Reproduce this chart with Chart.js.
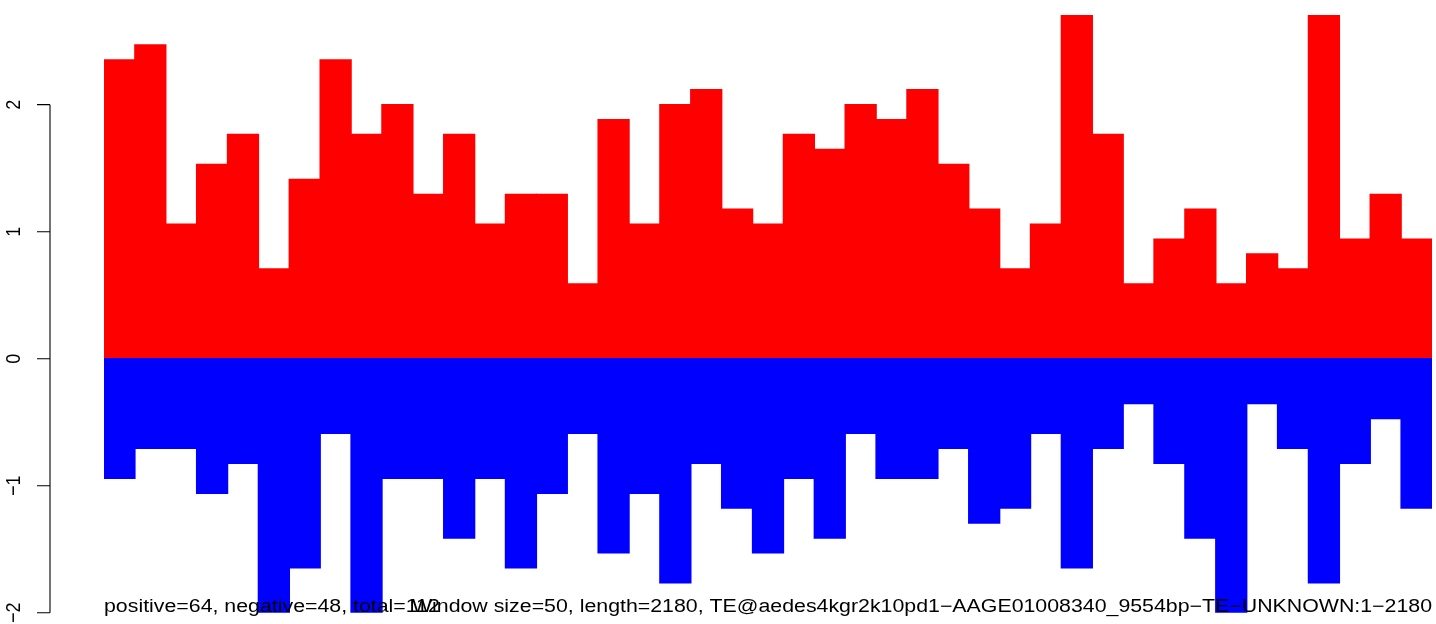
<!DOCTYPE html>
<html>
<head>
<meta charset="utf-8">
<script src="https://cdn.jsdelivr.net/npm/chart.js@4/dist/chart.umd.min.js"></script>
<style>
  html, body { margin: 0; padding: 0; background: #ffffff; }
  #wrap { position: relative; width: 1436px; height: 624px; }
</style>
</head>
<body>
<div id="wrap"><canvas id="c"></canvas></div>
<script>
// Window index labels (43 windows of 50 bp)
const windows = ["1","2","3","4","5","6","7","8","9","10","11","12","13","14","15","16","17","18","19","20","21","22","23","24","25","26","27","28","29","30","31","32","33","34","35","36","37","38","39","40","41","42","43"];

// Positive-strand values (red)
const positiveValues = [2.353, 2.471, 1.059, 1.529, 1.765, 0.706, 1.412, 2.353, 1.765, 2.000, 1.294, 1.765, 1.059, 1.294, 1.294, 0.588, 1.882, 1.059, 2.000, 2.118, 1.176, 1.059, 1.765, 1.647, 2.000, 1.882, 2.118, 1.529, 1.176, 0.706, 1.059, 2.706, 1.765, 0.588, 0.941, 1.176, 0.588, 0.824, 0.706, 2.706, 0.941, 1.294, 0.941];

// Negative-strand values (blue)
const negativeValues = [-0.941, -0.706, -0.706, -1.059, -0.824, -2.000, -1.647, -0.588, -2.000, -0.941, -0.941, -1.412, -0.941, -1.647, -1.059, -0.588, -1.529, -1.059, -1.765, -0.824, -1.176, -1.529, -0.941, -1.412, -0.588, -0.941, -0.941, -0.706, -1.294, -1.176, -0.588, -1.647, -0.706, -0.353, -0.824, -1.412, -2.000, -0.353, -0.706, -1.765, -0.824, -0.471, -1.176];

// Y axis ticks and labels
const yTickValues = [-2, -1, 0, 1, 2];
const yTickLabels = ["\u22122", "\u22121", "0", "1", "2"];

// Bottom annotation texts
const leftNote = "positive=64, negative=48, total=112";
const rightNote = "Window size=50, length=2180, TE@aedes4kgr2k10pd1\u2212AAGE01008340_9554bp\u2212TE\u2212UNKNOWN:1\u22122180";

const FONT = '18px "Liberation Sans", Arial, Helvetica, sans-serif';
const XSTRETCH = 1.185;

const overlay = {
  id: 'rOverlay',
  afterDraw(chart) {
    const ctx = chart.ctx;
    const ys = chart.scales.y;
    const area = chart.chartArea;
    ctx.save();
    // Y axis line + ticks
    ctx.strokeStyle = '#000000';
    ctx.lineWidth = 1.1;
    const yTop = ys.getPixelForValue(yTickValues[yTickValues.length - 1]);
    const yBot = ys.getPixelForValue(yTickValues[0]);
    ctx.beginPath();
    ctx.moveTo(50, yTop);
    ctx.lineTo(50, yBot);
    yTickValues.forEach(v => {
      const p = ys.getPixelForValue(v);
      ctx.moveTo(37, p);
      ctx.lineTo(50, p);
    });
    ctx.stroke();
    // Rotated tick labels
    ctx.fillStyle = '#000000';
    ctx.font = FONT;
    ctx.textAlign = 'center';
    ctx.textBaseline = 'alphabetic';
    yTickValues.forEach((v, i) => {
      const p = ys.getPixelForValue(v);
      ctx.save();
      ctx.translate(20, p);
      ctx.rotate(-Math.PI / 2);
      ctx.scale(1, 1.17);
      ctx.fillText(yTickLabels[i], 0, 0);
      ctx.restore();
    });
    // Bottom notes
    const baseY = 611.5;
    ctx.save();
    ctx.translate(area.left, baseY);
    ctx.scale(XSTRETCH, 1);
    ctx.textAlign = 'left';
    ctx.fillText(leftNote, 0, 0);
    ctx.restore();
    ctx.save();
    ctx.translate(area.right, baseY);
    ctx.scale(XSTRETCH, 1);
    ctx.textAlign = 'right';
    ctx.fillText(rightNote, 0, 0);
    ctx.restore();
    ctx.restore();
  }
};

new Chart(document.getElementById('c'), {
  type: 'bar',
  data: {
    labels: windows,
    datasets: [
      {
        label: 'negative',
        data: negativeValues,
        backgroundColor: '#0000FF',
        borderWidth: 0,
        inflateAmount: 0.7,
        barPercentage: 1,
        categoryPercentage: 1
      },
      {
        label: 'positive',
        data: positiveValues,
        backgroundColor: '#FF0000',
        borderWidth: 0,
        inflateAmount: 0.7,
        barPercentage: 1,
        categoryPercentage: 1
      }
    ]
  },
  options: {
    responsive: true,
    maintainAspectRatio: false,
    animation: false,
    layout: { padding: { left: 104, right: 4, top: 15, bottom: 11.3 } },
    plugins: { legend: { display: false }, tooltip: { enabled: false }, title: { display: false } },
    scales: {
      x: { display: false, stacked: true, grid: { display: false } },
      y: { display: false, stacked: true, min: -2, max: 2.706, grid: { display: false } }
    }
  },
  plugins: [overlay]
});
</script>
</body>
</html>
